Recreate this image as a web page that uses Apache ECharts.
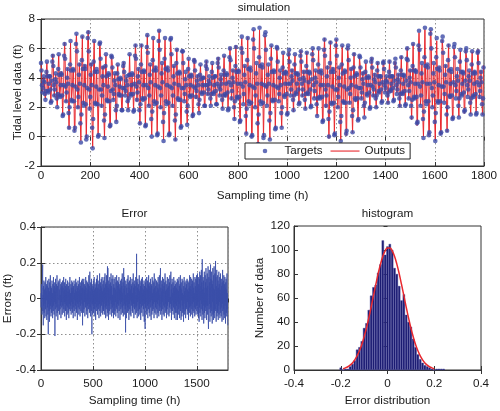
<!DOCTYPE html>
<html><head><meta charset="utf-8">
<script src="https://cdn.jsdelivr.net/npm/echarts@6/dist/echarts.min.js"></script>
<style>html,body{margin:0;padding:0;background:#fff}#c{width:500px;height:411px}</style>
</head><body><div id="c"></div>
<script>
// Sampling step of the stored series (hours)
const sampleStepHours = 2;

// Targets (tidal level) in tenths of ft, one value every 2 h, grouped per day (12 samples)
const targetsTenths = [
50,45,35,30,33,38,41,37,29,25,31,44, 51,41,31,30,36,41,41,32,23,24,38,51,
55,48,35,28,32,39,43,37,26,20,29,46, 56,42,28,27,35,43,42,28,14,15,35,55,
63,53,34,24,30,40,46,36,16,6,20,49, 65,45,25,24,35,46,45,24,4,6,34,63,
70,58,32,20,27,42,49,36,9,-4,15,52, 68,46,23,21,35,48,46,22,-2,0,33,67,
71,58,32,19,27,42,49,35,6,-8,12,51, 65,44,23,22,34,46,44,22,0,1,32,63,
64,53,32,21,28,41,47,35,11,-1,15,48, 56,41,25,24,34,43,42,24,7,8,31,55,
54,47,32,25,29,38,43,35,18,10,21,43, 49,39,29,28,34,40,39,28,18,18,33,48,
50,44,33,28,31,38,41,35,24,18,26,42, 56,42,29,28,35,43,42,29,17,18,36,55,
62,53,34,25,30,41,46,37,18,9,22,49, 62,44,26,25,35,45,44,26,7,8,35,61,
69,57,33,21,28,42,49,37,12,0,17,52, 67,45,24,22,35,47,45,23,1,2,34,65,
72,59,33,20,28,43,50,37,10,-3,16,53, 67,46,24,22,35,47,45,23,1,2,34,66,
67,56,33,21,28,41,48,36,11,-2,15,50, 59,43,26,25,35,44,43,25,6,7,33,58,
58,50,33,24,29,39,44,35,17,8,21,46, 53,41,28,27,35,42,41,28,14,15,34,52,
51,45,33,27,31,38,41,35,22,16,25,42, 49,39,30,29,35,40,40,30,21,21,35,48,
51,46,35,29,32,38,41,36,26,21,29,44, 50,40,30,29,35,41,41,31,22,22,36,50,
53,47,34,28,32,39,42,36,25,19,28,45, 55,42,29,28,36,43,42,30,18,19,37,54,
60,52,35,26,31,40,45,37,20,12,24,48, 61,44,27,26,36,45,44,27,10,11,36,60,
68,57,34,22,29,42,48,37,14,2,19,52, 67,46,24,22,35,47,45,23,0,1,34,66,
73,60,33,20,28,43,50,36,9,-5,15,54, 74,48,24,22,36,49,47,23,-1,1,35,69,
71,59,34,21,28,42,49,36,11,-2,16,53, 62,44,25,24,35,45,44,25,5,6,34,61,
60,51,33,24,29,40,45,35,16,6,20,47, 57,43,28,27,36,44,43,29,15,16,36,56,
59,51,36,28,32,41,45,38,25,18,28,49, 56,43,30,29,36,43,42,32,22,23,39,55,
58,51,36,28,32,40,44,38,25,19,29,48, 57,44,30,29,37,44,43,32,20,21,39,56,
60,52,35,26,31,40,45,37,22,14,26,49, 60,44,27,26,35,45,43,27,10,11,35,59,
66,55,32,21,28,41,47,35,12,0,17,50, 64,44,23,22,34,46,44,23,1,2,32,62,
66,55,32,20,27,40,47,35,10,-3,14,49, 62,43,24,23,34,45,44,23,2,4,32,60,
62,52,33,23,29,40,46,35,14,3,18,47, 56,41,26,25,34,43,42,26,11,12,33,55,
54,47,33,26,30,39,43,36,21,13,23,44, 51,40,29,28,35,41,40,30,19,20,35,51,
53,47,34,28,32,39,42,37,26,20,28,45, 50,41,31,30,36,41,41,32,23,24,37,50,
51,46,35,30,33,38,41,37,28,23,30,44, 51,41,32,31,36,41,41,33,24,25,38,50,
53,47,35,29,32,39,42,37,26,21,29,45, 54,42,30,29,36,42,41,31,21,22,38,53,
60,52,35,26,31,40,45,37,21,13,25,48, 63,45,27,26,36,45,44,27,9,10,36,62,
72,59,34,21,28,43,50,37,12,-1,17,54, 74,48,24,22,36,49,47,24,1,3,36,70,
73,60,33,20,28,43,50,37,10,-3,16,54, 67,46,24,23,35,47,45,24,2,3,34,65,
68,57,34,23,29,42,48,37,15,4,20,52, 62,45,28,27,36,46,44,28,12,13,37,61,
63,54,35,26,31,41,46,38,21,13,26,51, 59,44,29,28,36,44,43,30,17,18,38,58,
60,52,35,27,32,41,45,38,23,15,26,49, 58,43,28,27,36,44,43,29,15,16,37,57,
58,50,35,27,31,40,44,37,22,15,26,47
];

// Errors (targets - outputs) in hundredths of ft, one value every 2 h
const errorsHundredths = [
3,-5,8,-2,6,-9,4,11,19,-7,2,-15,7,-4,10,-8,1,5,-11,9,-3,6,-6,12,-10,4,-1,8,-12,3,7,-5,10,-9,2,-20,6,-3,11,-7,4,-13,9,0,-6,13,-4,7,-10,5,
-8,6,-2,10,-5,3,-11,8,1,-7,12,-4,5,-9,7,-2,9,-21,4,-6,11,-3,6,-10,2,8,-5,13,-8,0,7,-12,4,9,-3,-7,10,-1,5,-9,3,11,-6,2,-4,8,-11,6,-2,9,
-5,7,-9,3,10,-4,6,-8,1,12,-6,4,-2,9,-10,5,-3,7,-7,11,-1,3,-12,8,-4,6,-9,2,10,-5,4,-8,7,0,-11,9,-3,5,-6,12,13,-7,3,-4,8,-9,6,-2,10,-6,
4,-8,9,-3,6,-11,2,7,-5,10,-7,3,-1,8,-10,5,-4,11,-6,2,9,-8,4,-2,7,-12,6,-3,10,-5,1,8,-9,4,-6,12,-2,5,-10,7,-4,9,-7,3,-1,10,-8,6,-3,11,
-15,6,-4,9,-8,2,11,-6,5,-2,8,-10,4,7,-5,12,-3,6,-9,1,10,-7,3,-4,9,-11,5,-1,8,-6,13,-3,7,-8,2,15,-5,4,-10,9,-2,6,-7,11,-4,-20,8,-3,5,-9,
7,-4,10,-8,3,-1,12,-6,5,-10,8,-3,6,-12,2,9,-5,11,-7,4,-2,13,-9,6,-4,10,-6,1,8,-11,5,-3,14,-7,3,-5,9,-10,7,-1,11,-4,6,-8,12,-2,4,-9,8,-6,
10,-7,5,-3,12,-9,6,-1,14,-5,8,-11,3,9,-6,13,-4,7,-10,11,18,-8,17,-2,6,-12,10,-4,8,-7,3,12,-9,5,-1,9,-6,14,-3,7,-10,4,11,-5,2,-8,13,-2,6,-11,
8,-4,11,-9,3,6,-7,12,-2,5,-10,9,-5,1,13,-6,4,-8,10,-3,7,-11,2,9,-4,12,-7,5,-1,8,-12,6,-3,10,-6,4,-9,11,-2,7,-5,14,-8,3,-1,9,-10,6,17,-4,
5,-9,12,-3,7,-6,2,-19,10,-4,8,-11,4,6,-2,11,-8,3,-5,13,-7,1,9,-12,6,-3,10,-6,4,-9,12,-1,5,-10,8,-4,7,-2,11,-7,3,-8,9,-5,14,-3,6,-11,2,8,
-6,10,-3,7,-9,4,12,-5,2,-8,25,-4,9,-11,6,-2,11,-7,3,8,-10,5,-1,13,-6,4,-9,10,-3,7,-12,2,9,-5,11,-8,6,-2,12,-4,3,-10,8,-6,5,-1,10,-13,7,-3,
4,-17,9,-5,11,-2,6,-9,3,12,-7,5,-4,10,-11,2,8,-6,13,-3,7,-8,1,9,-10,6,-2,11,-5,4,-12,8,-1,7,-9,12,-4,3,-7,10,-6,5,-3,9,-11,14,-2,6,-8,2,
11,-5,7,-9,3,-2,10,-6,4,-11,9,-3,6,-8,12,-1,5,-10,8,-4,13,-7,2,-5,11,17,-9,6,-3,10,-7,4,-12,8,-2,12,-6,5,-9,3,11,-4,7,-10,2,9,-5,14,-8,4,
-3,10,-7,5,-11,8,2,-6,12,-4,6,-9,3,11,-2,7,-10,4,9,-5,13,-8,1,-3,10,15,-6,5,-12,8,-4,11,-7,3,-1,9,-9,6,-5,12,-2,4,-11,7,-6,10,-3,8,-8,5,
-12,6,-4,9,-8,3,11,-12,5,-2,10,-9,4,-6,12,-3,7,-11,2,8,-5,13,-7,6,-12,9,-1,5,-10,11,-4,3,-8,10,-6,2,-13,7,-3,12,-9,4,-1,9,-7,6,-11,3,10,-5,
8,-6,3,11,-9,5,-2,10,-7,4,-12,9,-3,6,-8,13,-5,2,7,-10,12,-4,5,-9,1,11,-6,8,-3,10,-11,4,-7,14,-2,6,-8,9,-5,3,-10,12,-1,7,-6,11,-9,5,-4,13,
-7,10,-4,14,-9,6,-2,12,-11,8,3,-13,11,-5,15,-8,4,-1,13,-10,7,-6,16,-3,9,-12,22,-7,5,-9,12,-4,10,-14,6,-2,15,-8,3,-11,13,-5,9,-7,17,-3,6,-12,11,-4,
14,-9,7,-4,18,-11,-17,5,12,-6,16,-3,9,-13,6,-8,19,-5,11,-10,4,15,-7,10,-14,8,-2,17,-9,6,-12,13,-4,18,-8,5,-11,14,-6,9,21,-7,12,-13,7,-3,16,-10,5,-8,
13,-7,10,-12,6,-4,15,-9,8,-2,12,-11,5,-6,14,-8,3,-10,11,-5,7,-13,9,-3,16,-7,4,-12,10,-6,13,-9,2,8,-11,12,-4,6,-14,9,-2,11,-8,5,-10,14,-6,3,-9,-15
];

// Histogram of errors: bin centres (ft) and counts
const histCenters = [-0.20,-0.19,-0.18,-0.17,-0.16,-0.15,-0.14,-0.13,-0.12,-0.11,-0.10,-0.09,-0.08,-0.07,-0.06,-0.05,-0.04,-0.03,-0.02,-0.01,
  0.00,0.01,0.02,0.03,0.04,0.05,0.06,0.07,0.08,0.09,0.10,0.11,0.12,0.13,0.14,0.15,0.16,0.17,0.18,0.19,0.20,0.21,0.22,0.23,0.24];
const histCounts = [2,0,1,1,3,5,8,17,19,24,35,39,50,62,69,71,81,88,108,96,
  103,105,100,85,80,70,58,63,46,40,36,26,19,13,9,6,4,3,2,1,0,1,1,1,1];

// Fitted normal curve
const fitX = [-0.19,-0.18,-0.17,-0.16,-0.15,-0.14,-0.13,-0.12,-0.11,-0.10,-0.09,-0.08,-0.07,-0.06,-0.05,-0.04,-0.03,-0.02,-0.01,0.00,
  0.01,0.02,0.03,0.04,0.05,0.06,0.07,0.08,0.09,0.10,0.11,0.12,0.13,0.14,0.15,0.16,0.17,0.18,0.19,0.20];
const fitY = [1.1,1.8,2.7,4.1,5.9,8.5,11.8,16.1,21.3,27.7,35.0,43.4,52.4,61.9,71.3,80.3,88.2,94.7,99.3,101.7,
  101.7,99.3,94.7,88.2,80.3,71.3,61.9,52.4,43.4,35.0,27.7,21.3,16.1,11.8,8.5,5.9,4.1,2.7,1.8,1.1];

// Axis tick settings
const topXTicks = {min: 0, max: 1800, interval: 200};
const topYTicks = {min: -2, max: 8, interval: 2};
const errXTicks = {min: 0, max: 1800, interval: 500};
const errYTicks = {min: -0.4, max: 0.4, interval: 0.2};
const histXTicks = {min: -0.4, max: 0.4, interval: 0.2};
const histYTicks = {min: 0, max: 120, interval: 20};

// ---- build chart ----
const FONT = "'Liberation Sans', Arial, Helvetica, sans-serif";
const TXT = '#1a1a1a';
const FS = 11.7;
const AX = '#333333';
const RED = '#e8282e';
const DOT = '#3c4aa6';

const targetPts = targetsTenths.map((v, i) => [i * sampleStepHours, v / 10]);
const outputPts = targetsTenths.map((v, i) => [i * sampleStepHours, Math.round(v * 10 - (errorsHundredths[i] || 0)) / 100]);
const errorPts = errorsHundredths.map((v, i) => [i * sampleStepHours, v / 100]);
const histPts = histCenters.map((c, i) => [c, histCounts[i]]);
const fitPts = fitX.map((x, i) => [x, fitY[i]]);

const gridLine = {show: true, lineStyle: {color: '#8f8f8f', type: [1.5, 2.5], width: 1}};

function mainAxis(o) {
  return {
    type: 'value', gridIndex: o.grid, min: o.t.min, max: o.t.max, interval: o.t.interval,
    position: o.pos,
    name: o.name, nameLocation: 'middle', nameGap: o.nameGap, nameMoveOverlap: false,
    nameTextStyle: {color: TXT, fontFamily: FONT, fontSize: FS},
    axisLine: {show: true, onZero: false, lineStyle: {color: AX, width: 1}},
    axisTick: {show: true, inside: true, length: 4, lineStyle: {color: AX}},
    axisLabel: {color: TXT, fontFamily: FONT, fontSize: FS, margin: o.margin, showMaxLabel: o.showMax !== false,
      formatter: v => String(Math.round(v * 1000) / 1000)},
    splitLine: o.split ? gridLine : {show: false}
  };
}
function mirrorAxis(grid, t, pos) {
  return {
    type: 'value', gridIndex: grid, min: t.min, max: t.max, interval: t.interval, position: pos,
    axisLine: {show: false}, axisLabel: {show: false}, splitLine: {show: false},
    axisTick: {show: true, inside: true, length: 4, lineStyle: {color: AX}}
  };
}
const gridBase = {show: true, borderColor: AX, borderWidth: 1, backgroundColor: '#fff', containLabel: false};
const titleStyle = {fontSize: FS, fontWeight: 'normal', color: TXT, fontFamily: FONT};

const option = {
  animation: false,
  backgroundColor: '#fff',
  title: [
    {text: 'simulation', left: 264, top: 1.5, textAlign: 'center', padding: 0, textStyle: titleStyle},
    {text: 'Error', left: 134.5, top: 207.5, textAlign: 'center', padding: 0, textStyle: titleStyle},
    {text: 'histogram', left: 387.5, top: 207.5, textAlign: 'center', padding: 0, textStyle: titleStyle}
  ],
  grid: [
    Object.assign({left: 41, top: 19, width: 446, height: 147}, gridBase),
    Object.assign({left: 41, top: 227, width: 187, height: 143}, gridBase),
    Object.assign({left: 294, top: 226, width: 187, height: 144}, gridBase)
  ],
  legend: {
    left: 245, top: 143, orient: 'horizontal',
    padding: [2, 5, 2, 5.5], itemGap: 8, itemWidth: 29, itemHeight: 5,
    backgroundColor: '#fff', borderColor: '#222', borderWidth: 1, borderRadius: 0,
    textStyle: {color: TXT, fontFamily: FONT, fontSize: 11.6},
    data: [
      {name: 'Targets', icon: 'path://M0,0 M29,5 M12.2,2.5 A2.3,2.3 0 1 0 16.8,2.5 A2.3,2.3 0 1 0 12.2,2.5 Z'},
      {name: 'Outputs', icon: 'path://M0,0 M29,5 M0,2 L29,2 L29,3.1 L0,3.1 Z'}
    ],
    z: 10
  },
  xAxis: [
    mainAxis({grid: 0, t: topXTicks, pos: 'bottom', name: 'Sampling time (h)', nameGap: 24, margin: 4, split: true}),
    mirrorAxis(0, topXTicks, 'top'),
    mainAxis({grid: 1, t: errXTicks, pos: 'bottom', name: 'Sampling time (h)', nameGap: 24.7, margin: 8, split: true, showMax: false}),
    mirrorAxis(1, errXTicks, 'top'),
    mainAxis({grid: 2, t: histXTicks, pos: 'bottom', name: 'Error distribution', nameGap: 24.7, margin: 8, split: false}),
    mirrorAxis(2, histXTicks, 'top')
  ],
  yAxis: [
    mainAxis({grid: 0, t: topYTicks, pos: 'left', name: 'Tidal level data (ft)', nameGap: 17, margin: 6, split: true}),
    mirrorAxis(0, topYTicks, 'right'),
    mainAxis({grid: 1, t: errYTicks, pos: 'left', name: 'Errors (ft)', nameGap: 27.3, margin: 5, split: true}),
    mirrorAxis(1, errYTicks, 'right'),
    mainAxis({grid: 2, t: histYTicks, pos: 'left', name: 'Number of data', nameGap: 28, margin: 4, split: false}),
    mirrorAxis(2, histYTicks, 'right')
  ],
  series: [
    {name: 'Outputs', type: 'line', xAxisIndex: 0, yAxisIndex: 0, data: outputPts,
      symbol: 'none', showSymbol: false, lineStyle: {color: RED, width: 1}, itemStyle: {color: RED}, z: 2},
    {name: 'Targets', type: 'scatter', xAxisIndex: 0, yAxisIndex: 0, data: targetPts,
      symbol: 'circle', symbolSize: 4.6, itemStyle: {color: DOT, opacity: 0.8}, z: 3},
    {name: 'Error', type: 'line', xAxisIndex: 2, yAxisIndex: 2, data: errorPts,
      symbol: 'none', showSymbol: false, lineStyle: {color: '#3a4ea8', width: 0.8}, z: 2},
    {name: 'Histogram', type: 'bar', xAxisIndex: 4, yAxisIndex: 4, data: histPts, barWidth: 2.33,
      itemStyle: {color: '#1c1c72', borderColor: '#45459a', borderWidth: 0.4}, z: 2},
    {name: 'Fit', type: 'line', xAxisIndex: 4, yAxisIndex: 4, data: fitPts, smooth: true,
      symbol: 'none', showSymbol: false, lineStyle: {color: RED, width: 1.5}, z: 3}
  ]
};
const chart = echarts.init(document.getElementById('c'), null, {renderer: 'canvas'});
chart.setOption(option);
</script>
</body></html>
